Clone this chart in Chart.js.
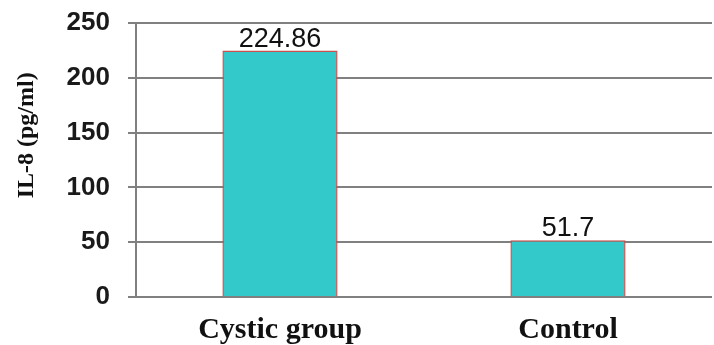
<!DOCTYPE html>
<html>
<head>
<meta charset="utf-8">
<script src="https://cdn.jsdelivr.net/npm/chart.js@4"></script>
<style>
    html, body { margin: 0; padding: 0; background: #fff; }
    #wrap { width: 714px; height: 345px; }
</style>
</head>
<body>
<div id="wrap"><canvas id="chart"></canvas></div>
<script>
const categories = ["Cystic group", "Control"];
const il8 = [224.86, 51.7];
const valueLabels = ["224.86", "51.7"];
const yTicks = [0, 50, 100, 150, 200, 250];
const yTitle = "IL-8 (pg/ml)";

// numbers above the bars + the axis title (sits a bit above centre in the original)
const extras = {
    id: "extras",
    afterDatasetsDraw(chart) {
        const ctx = chart.ctx;
        ctx.save();
        ctx.font = "27px 'Liberation Sans', Arial, sans-serif";
        ctx.fillStyle = "#111";
        ctx.textAlign = "center";
        ctx.textBaseline = "bottom";
        chart.getDatasetMeta(0).data.forEach((bar, i) => {
            ctx.fillText(valueLabels[i], bar.x, bar.y + 2);
        });
        ctx.restore();
    },
    afterDraw(chart) {
        const ctx = chart.ctx;
        const area = chart.chartArea;
        ctx.save();
        ctx.translate(27, area.top + (area.bottom - area.top) * 0.41);
        ctx.rotate(-Math.PI / 2);
        ctx.font = "bold 24px 'Liberation Serif', 'Times New Roman', serif";
        ctx.fillStyle = "#111";
        ctx.textAlign = "center";
        ctx.textBaseline = "middle";
        ctx.fillText(yTitle, 0, 0);
        ctx.restore();
    }
};

new Chart(document.querySelector("#chart"), {
    type: "bar",
    data: {
        labels: categories,
        datasets: [{
            label: "IL-8",
            data: il8,
            backgroundColor: "#33C9CB",
            borderColor: "#C8504F",
            borderWidth: 1.5,
            barPercentage: 0.8,
            categoryPercentage: 0.5
        }]
    },
    options: {
        responsive: true,
        maintainAspectRatio: false,
        animation: false,
        layout: { padding: { top: 23, right: 2, left: 0, bottom: 0 } },
        plugins: {
            legend: { display: false },
            tooltip: { enabled: false }
        },
        scales: {
            y: {
                min: 0,
                max: 250,
                afterBuildTicks: scale => { scale.ticks = yTicks.map(v => ({ value: v })); },
                afterFit: scale => {
                    scale.width = 136;
                    scale.paddingTop = 0;
                    scale.paddingBottom = 0;
                },
                ticks: {
                    color: "#1a1a1a",
                    padding: 18,
                    font: { family: "'Liberation Sans', Arial, sans-serif", size: 26, weight: "bold" }
                },
                grid: { color: "#808080", lineWidth: 2, tickLength: 8 },
                border: { color: "#808080", width: 2 }
            },
            x: {
                afterFit: scale => { scale.height = 48; },
                grid: { display: false },
                border: { display: false },
                ticks: {
                    color: "#111",
                    padding: 7,
                    font: { family: "'Liberation Serif', 'Times New Roman', serif", size: 30, weight: "bold" }
                }
            }
        }
    },
    plugins: [extras]
});
</script>
</body>
</html>
